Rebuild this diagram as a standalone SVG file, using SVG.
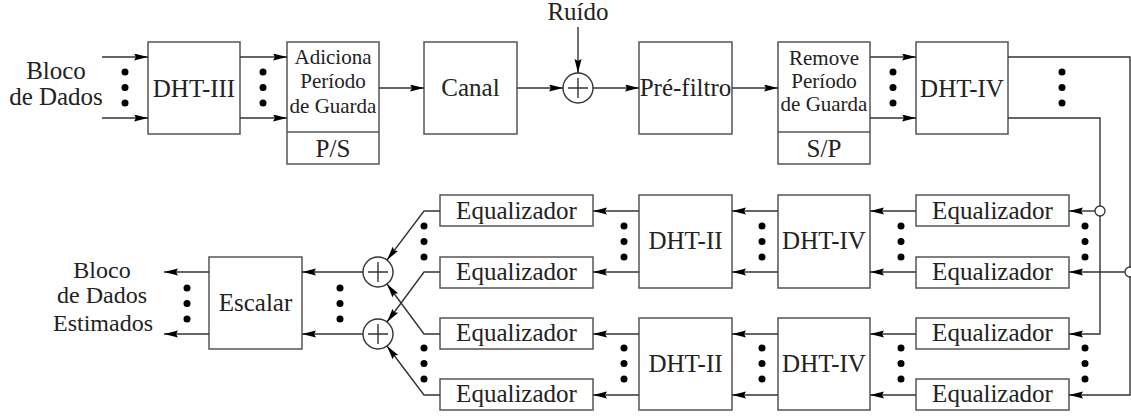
<svg xmlns="http://www.w3.org/2000/svg" width="1131" height="416" viewBox="0 0 1131 416">
  <style>
    .box { fill: #fff; stroke: #555; stroke-width: 1.5; }
    .wire { fill: none; stroke: #333; stroke-width: 1.4; }
    .arr { marker-end: url(#head); }
    .dot { fill: #000; }
    .sum { fill: #fff; stroke: #333; stroke-width: 1.4; }
    .jn { fill: #fff; stroke: #333; stroke-width: 1.3; }
    text { font-family: 'Liberation Serif', 'DejaVu Serif', serif; fill: #222; text-anchor: middle; }
    .big { font-size: 25px; }
    .small { font-size: 21px; }
    .lbl { font-size: 24px; }
  </style>
  <defs>
    <marker id="head" markerUnits="userSpaceOnUse" markerWidth="15" markerHeight="8" refX="14" refY="3.5" orient="auto">
      <path d="M0,0 L14,3.5 L0,7 L2,3.5 z" fill="#000"/>
    </marker>
    <g id="vdots">
      <circle cx="0" cy="0" r="3.5" class="dot"/>
      <circle cx="0" cy="15.5" r="3.5" class="dot"/>
      <circle cx="0" cy="31" r="3.5" class="dot"/>
    </g>
  </defs>

  <rect width="1131" height="416" fill="#fff"/>

  <!-- transmitter chain -->
  <g id="in-label">
    <text class="big" x="56" y="79">Bloco</text>
    <text class="big" x="56" y="105">de Dados</text>
  </g>
  <g id="dht3">
    <rect class="box" x="148" y="42" width="92" height="92"/>
    <text class="big" x="194" y="97">DHT-III</text>
  </g>
  <g id="add-guard">
    <rect class="box" x="287" y="42" width="92" height="122"/>
    <line class="box" x1="287" y1="132" x2="379" y2="132"/>
    <text class="small" x="333" y="64">Adiciona</text>
    <text class="small" x="333" y="88">Período</text>
    <text class="small" x="333" y="113">de Guarda</text>
    <text class="big" x="333" y="157">P/S</text>
  </g>
  <g id="canal">
    <rect class="box" x="424" y="42" width="93" height="92"/>
    <text class="big" x="470.5" y="96">Canal</text>
  </g>
  <g id="noise-sum">
    <text class="big" x="578" y="20">Ruído</text>
    <circle class="sum" cx="578" cy="88" r="15"/>
    <path class="wire" d="M578,78 V98 M568,88 H588"/>
  </g>
  <g id="prefilter">
    <rect class="box" x="639" y="42" width="93" height="92"/>
    <text class="big" x="685.5" y="96">Pré-filtro</text>
  </g>
  <g id="remove-guard">
    <rect class="box" x="778" y="42" width="92" height="122"/>
    <line class="box" x1="778" y1="132" x2="870" y2="132"/>
    <text class="small" x="824" y="65">Remove</text>
    <text class="small" x="824" y="88">Período</text>
    <text class="small" x="824" y="111">de Guarda</text>
    <text class="big" x="824" y="157">S/P</text>
  </g>
  <g id="dht4-top">
    <rect class="box" x="916" y="42" width="92" height="92"/>
    <text class="big" x="962" y="97">DHT-IV</text>
  </g>

  <!-- receiver: upper branch -->
  <g id="eq-r1">
    <rect class="box" x="916" y="195" width="153" height="31"/>
    <text class="big" x="992.5" y="219">Equalizador</text>
  </g>
  <g id="eq-r2">
    <rect class="box" x="916" y="257" width="153" height="31"/>
    <text class="big" x="992.5" y="280">Equalizador</text>
  </g>
  <g id="dht4-a">
    <rect class="box" x="778" y="195" width="92" height="93"/>
    <text class="big" x="824" y="249">DHT-IV</text>
  </g>
  <g id="dht2-a">
    <rect class="box" x="639" y="195" width="93" height="93"/>
    <text class="big" x="685.5" y="249">DHT-II</text>
  </g>
  <g id="eq-l1">
    <rect class="box" x="440" y="195" width="153" height="31"/>
    <text class="big" x="516.5" y="219">Equalizador</text>
  </g>
  <g id="eq-l2">
    <rect class="box" x="440" y="257" width="153" height="31"/>
    <text class="big" x="516.5" y="280">Equalizador</text>
  </g>

  <!-- receiver: lower branch -->
  <g id="eq-r3">
    <rect class="box" x="916" y="318" width="153" height="31"/>
    <text class="big" x="992.5" y="341">Equalizador</text>
  </g>
  <g id="eq-r4">
    <rect class="box" x="916" y="379" width="153" height="31"/>
    <text class="big" x="992.5" y="402">Equalizador</text>
  </g>
  <g id="dht4-b">
    <rect class="box" x="778" y="318" width="92" height="92"/>
    <text class="big" x="824" y="372">DHT-IV</text>
  </g>
  <g id="dht2-b">
    <rect class="box" x="639" y="318" width="93" height="92"/>
    <text class="big" x="685.5" y="372">DHT-II</text>
  </g>
  <g id="eq-l3">
    <rect class="box" x="440" y="318" width="153" height="31"/>
    <text class="big" x="516.5" y="341">Equalizador</text>
  </g>
  <g id="eq-l4">
    <rect class="box" x="440" y="379" width="153" height="31"/>
    <text class="big" x="516.5" y="402">Equalizador</text>
  </g>

  <!-- combiners and output -->
  <g id="sum-a">
    <circle class="sum" cx="378" cy="272" r="15"/>
    <path class="wire" d="M378,262 V282 M368,272 H388"/>
  </g>
  <g id="sum-b">
    <circle class="sum" cx="378" cy="334" r="15"/>
    <path class="wire" d="M378,324 V344 M368,334 H388"/>
  </g>
  <g id="scale">
    <rect class="box" x="209" y="257" width="93" height="92"/>
    <text class="big" x="255.5" y="311">Escalar</text>
  </g>
  <g id="out-label">
    <text class="lbl" x="102" y="278">Bloco</text>
    <text class="lbl" x="102" y="303">de Dados</text>
    <text class="lbl" x="103" y="331">Estimados</text>
  </g>

  <g id="connectors">
    <!-- top chain -->
    <path class="wire arr" d="M102,57 H148"/>
    <path class="wire arr" d="M102,118 H148"/>
    <path class="wire arr" d="M240,57 H287"/>
    <path class="wire arr" d="M240,118 H287"/>
    <path class="wire arr" d="M379,88 H424"/>
    <path class="wire arr" d="M517,88 H563"/>
    <path class="wire arr" d="M578,27 V73"/>
    <path class="wire arr" d="M593,88 H639"/>
    <path class="wire arr" d="M732,88 H778"/>
    <path class="wire arr" d="M870,57 H916"/>
    <path class="wire arr" d="M870,118 H916"/>

    <!-- feedback to the equalizer banks -->
    <path class="wire arr" d="M1008,57 H1130 V395 H1069"/>
    <path class="wire arr" d="M1008,118 H1100 V334 H1069"/>
    <path class="wire arr" d="M1100,211 H1069"/>
    <path class="wire arr" d="M1130,272 H1069"/>
    <circle class="jn" cx="1100" cy="211" r="5"/>
    <circle class="jn" cx="1130" cy="272" r="5"/>

    <!-- equalizer -> DHT-IV -> DHT-II -> equalizer -->
    <path class="wire arr" d="M916,211 H870"/>
    <path class="wire arr" d="M916,272 H870"/>
    <path class="wire arr" d="M916,334 H870"/>
    <path class="wire arr" d="M916,395 H870"/>
    <path class="wire arr" d="M778,211 H732"/>
    <path class="wire arr" d="M778,272 H732"/>
    <path class="wire arr" d="M778,334 H732"/>
    <path class="wire arr" d="M778,395 H732"/>
    <path class="wire arr" d="M639,211 H593"/>
    <path class="wire arr" d="M639,272 H593"/>
    <path class="wire arr" d="M639,334 H593"/>
    <path class="wire arr" d="M639,395 H593"/>

    <!-- equalizers -> combiners -->
    <path class="wire arr" d="M440,211 H424 L387,260"/>
    <path class="wire arr" d="M440,272 H424 L387,322"/>
    <path class="wire arr" d="M440,334 H424 L387,284"/>
    <path class="wire arr" d="M440,395 H424 L387,346"/>

    <!-- combiners -> scaling -> output -->
    <path class="wire arr" d="M363,272 H302"/>
    <path class="wire arr" d="M363,334 H302"/>
    <path class="wire arr" d="M209,272 H164"/>
    <path class="wire arr" d="M209,334 H164"/>
  </g>

  <!-- ellipsis dots -->
  <g id="ellipses">
    <use href="#vdots" x="125" y="72"/>
    <use href="#vdots" x="263" y="72"/>
    <use href="#vdots" x="893" y="72"/>
    <use href="#vdots" x="1062" y="72"/>
    <use href="#vdots" x="424" y="226"/>
    <use href="#vdots" x="624" y="226"/>
    <use href="#vdots" x="762" y="226"/>
    <use href="#vdots" x="901" y="226"/>
    <use href="#vdots" x="1085" y="226"/>
    <use href="#vdots" x="424" y="348"/>
    <use href="#vdots" x="624" y="348"/>
    <use href="#vdots" x="762" y="348"/>
    <use href="#vdots" x="901" y="348"/>
    <use href="#vdots" x="1085" y="348"/>
    <use href="#vdots" x="187" y="288"/>
    <use href="#vdots" x="340" y="288"/>
  </g>
</svg>
